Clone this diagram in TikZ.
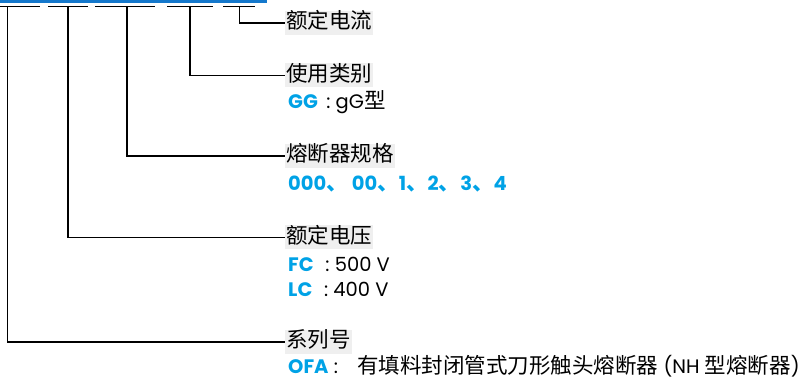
\documentclass[tikz,border=0pt]{standalone}
\usepackage{fontspec}
\setmainfont{Poppins}
\newfontfamily\cjk{Noto Sans CJK SC}
\usetikzlibrary{positioning,calc}
\definecolor{barblue}{HTML}{1478CC}
\definecolor{codeblue}{HTML}{00A2E6}
\definecolor{labelgray}{HTML}{EFEFEF}
\newcommand{\zh}[1]{{\cjk\fontsize{21.5}{22}\selectfont #1}}
\newcommand{\code}[1]{{\bfseries\color{codeblue}#1}}

\begin{document}
\begin{tikzpicture}[x=1pt, y=-1pt,
    field/.style={anchor=west, fill=labelgray, inner xsep=1pt, inner ysep=2pt,
        font=\cjk\fontsize{21.5}{22}\selectfont, text height=16pt, text depth=4pt},
    value/.style={anchor=west, inner sep=0pt, font=\fontsize{19.5}{22}\selectfont},
    leader/.style={line width=1.4pt, black},
    tick/.style={line width=1.5pt, black}]
    \useasboundingbox (0,0) rectangle (801,379);

    % Top bar
    \fill[barblue] (0,0) rectangle (267,3);

    % Code position marks
    \draw[tick] (0,6.5) -- (40,6.5);
    \draw[tick] (48,6.5) -- (88,6.5);
    \draw[tick] (95,6.5) -- (155,6.5);
    \draw[tick] (167,6.5) -- (213,6.5);
    \draw[tick] (223,6.5) -- (255,6.5);
    \coordinate (series) at (7.5,6.5);
    \coordinate (voltage) at (68,6.5);
    \coordinate (size) at (127,6.5);
    \coordinate (class) at (190,6.5);
    \coordinate (current) at (239.5,6.5);

    % Field labels
    \node[field] (lcurrent) at (285,23) {额定电流};
    \node[field] (lclass) at (285,75.5) {使用类别};
    \node[field] (lsize) at (285,156) {熔断器规格};
    \node[field] (lvoltage) at (285,237.5) {额定电压};
    \node[field] (lseries) at (285,342) {系列号};

    % Values
    \node[value] (vclass) at (288,102) {\code{GG}\, : gG\zh{型}};
    \node[value] (vsize) at (288,184) {\code{000\zh{、} 00\zh{、}1\zh{、}2\zh{、}3\zh{、}4}};
    \node[value] (vfc) at (288,264) {\code{FC}\,\,  : 500 V};
    \node[value] (vlc) at (288,289) {\code{LC}\,\,  : 400 V};
    \node[value] (vofa) at (288,366) {\code{OFA} :\quad \zh{有填料封闭管式刀形触头熔断器} (NH \zh{型熔断器})};

    % Leaders
    \draw[leader] (current) |- (lcurrent.west);
    \draw[leader] (class) |- (lclass.west);
    \draw[leader] (size) |- (lsize.west);
    \draw[leader] (voltage) |- (lvoltage.west);
    \draw[leader] (series) |- (lseries.west);
\end{tikzpicture}
\end{document}
